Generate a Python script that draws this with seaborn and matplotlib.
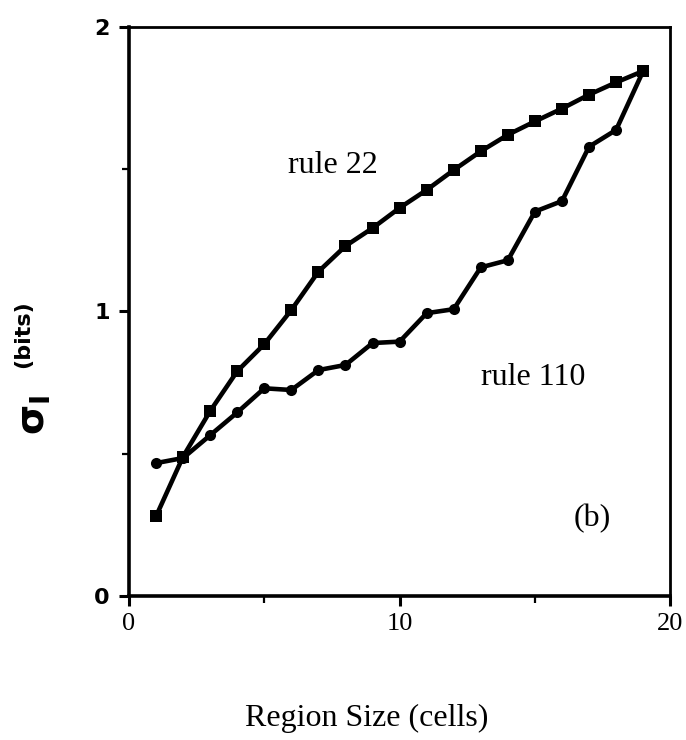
import matplotlib
matplotlib.use("Agg")
import matplotlib.pyplot as plt
from matplotlib.ticker import FixedLocator
import seaborn as sns
import pandas as pd

region_size = list(range(1, 20))
rule22 = [0.28, 0.49, 0.65, 0.79, 0.885, 1.005, 1.14, 1.23, 1.293, 1.364, 1.427,
          1.497, 1.563, 1.621, 1.668, 1.713, 1.762, 1.805, 1.845]
rule110 = [0.467, 0.485, 0.565, 0.645, 0.73, 0.724, 0.794, 0.812, 0.889, 0.894, 0.994,
           1.008, 1.155, 1.18, 1.351, 1.388, 1.579, 1.638, 1.845]
series_names = ["rule 22", "rule 110"]
x_ticks = [0, 10, 20]
x_minor = [5, 15]
y_ticks = [0, 1, 2]
y_minor = [0.5, 1.5]

df = pd.DataFrame({
    "size": region_size * 2,
    "sigma": rule22 + rule110,
    "rule": [series_names[0]] * len(region_size) + [series_names[1]] * len(region_size),
})

sns.set_theme(style="white")
plt.rcParams["font.family"] = ["Liberation Serif", "DejaVu Serif"]

fig = plt.figure(figsize=(6.86, 7.40), dpi=100)
ax = fig.add_axes([0.188, 0.1946, 0.789, 0.769])

sns.lineplot(data=df, x="size", y="sigma", hue="rule", style="rule",
             palette={"rule 22": "black", "rule 110": "black"},
             markers={"rule 22": "s", "rule 110": "o"},
             dashes={"rule 22": "", "rule 110": ""},
             markersize=8, linewidth=3.3, markeredgewidth=0,
             legend=False, ax=ax)

ax.set_xlim(0, 20)
ax.set_ylim(0, 2)
ax.xaxis.set_major_locator(FixedLocator(x_ticks))
ax.xaxis.set_minor_locator(FixedLocator(x_minor))
ax.yaxis.set_major_locator(FixedLocator(y_ticks))
ax.yaxis.set_minor_locator(FixedLocator(y_minor))
ax.set_xticklabels([str(v) for v in x_ticks], fontsize=19, family=["Liberation Serif"])
ax.set_yticklabels([str(v) for v in y_ticks], fontsize=16, fontweight="bold",
                   family=["DejaVu Sans"])
ax.tick_params(which="both", direction="out", color="black", bottom=True, left=True,
               top=False, right=False, labelcolor="black")
ax.tick_params(which="major", length=7, width=2.2)
ax.tick_params(which="minor", length=5, width=1.6)
ax.tick_params(axis="x", pad=5)
ax.tick_params(axis="y", pad=7)

for side in ["left", "bottom"]:
    ax.spines[side].set_linewidth(2.6)
    ax.spines[side].set_color("black")
for side in ["top", "right"]:
    ax.spines[side].set_linewidth(2.0)
    ax.spines[side].set_color("black")

ax.set_xlabel("")
ax.set_ylabel("")
fig.text(0.534, 0.019, "Region Size (cells)", fontsize=23, ha="center",
         va="baseline", color="black")

fig.text(0.05, 0.439, r"$\mathbf{\sigma}_{\mathbf{I}}$", rotation=90, fontsize=28,
         ha="center", va="center", family=["DejaVu Sans"], color="black")
fig.text(0.034, 0.549, "(bits)", rotation=90, fontsize=16, fontweight="bold",
         ha="center", va="center", family=["DejaVu Sans"], color="black")

ax.text(7.55, 1.487, series_names[0], fontsize=23, ha="center", va="baseline",
        color="black")
ax.text(14.93, 0.742, series_names[1], fontsize=23, ha="center", va="baseline",
        color="black")
ax.text(17.12, 0.246, "(b)", fontsize=23, ha="center", va="baseline", color="black")

fig.savefig("out.png", dpi=100, facecolor="white")
